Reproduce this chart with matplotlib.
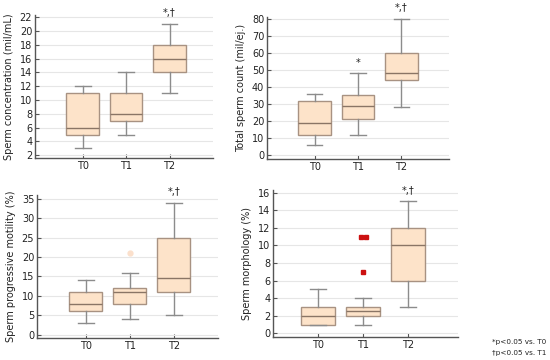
import matplotlib
matplotlib.use("Agg")
import matplotlib.pyplot as plt

# group labels
groups = ["T0", "T1", "T2"]

# box stats: whisker low, q1, median, q3, whisker high
conc_lo = [3, 5, 11]
conc_q1 = [5, 7, 14]
conc_med = [6, 8, 16]
conc_q3 = [11, 11, 18]
conc_hi = [12, 14, 21]

count_lo = [6, 12, 28]
count_q1 = [12, 21, 44]
count_med = [19, 29, 48]
count_q3 = [32, 35, 60]
count_hi = [36, 48, 80]

mot_lo = [3, 4, 5]
mot_q1 = [6, 8, 11]
mot_med = [8, 11, 14.5]
mot_q3 = [11, 12, 25]
mot_hi = [14, 16, 34]
mot_out = [[], [21], []]

morph_lo = [1, 1, 3]
morph_q1 = [1, 2, 6]
morph_med = [2, 2.5, 10]
morph_q3 = [3, 3, 12]
morph_hi = [5, 4, 15]
morph_out = [[], [11, 11, 7], []]

# significance marks above each group
conc_marks = ["", "", "*,\u2020"]
count_marks = ["", "*", "*,\u2020"]
mot_marks = ["", "", "*,\u2020"]
morph_marks = ["", "", "*,\u2020"]

FACE = "#FDE3C9"
EDGE = "#A89282"
WHISK = "#8C8C8C"


def make_stats(lo, q1, med, q3, hi, out=None):
    stats = []
    for i in range(len(groups)):
        stats.append({"whislo": lo[i], "q1": q1[i], "med": med[i], "q3": q3[i],
                      "whishi": hi[i], "fliers": out[i] if out else [],
                      "label": groups[i]})
    return stats


def draw_panel(ax, stats, marks, ylabel, yticks, ylim, xlim, flier_style):
    ax.bxp(stats, positions=[1, 2, 3], widths=0.75, capwidths=0.36,
           patch_artist=True, showfliers=True,
           boxprops=dict(facecolor=FACE, edgecolor=EDGE, linewidth=1.0),
           medianprops=dict(color="#8A7565", linewidth=1.0),
           whiskerprops=dict(color=WHISK, linewidth=1.0),
           capprops=dict(color=WHISK, linewidth=1.0),
           flierprops=flier_style)
    ax.set_xlim(xlim)
    ax.set_ylim(ylim)
    ax.set_yticks(yticks)
    ax.set_xticks([1, 2, 3])
    ax.set_xticklabels(groups)
    ax.set_ylabel(ylabel, fontsize=7, color="#222222", labelpad=4)
    ax.yaxis.grid(True, color="#E6E6E6", linewidth=0.8)
    ax.set_axisbelow(True)
    for s in ["top", "right"]:
        ax.spines[s].set_visible(False)
    for s in ["left", "bottom"]:
        ax.spines[s].set_color("#555555")
        ax.spines[s].set_linewidth(1.0)
    ax.tick_params(direction="in", length=3, width=0.8, colors="#555555",
                   labelsize=7, labelcolor="#222222", pad=2)
    for i, m in enumerate(marks):
        if m:
            ax.annotate(m, xy=(i + 1, stats[i]["whishi"]), xytext=(0, 4),
                        textcoords="offset points", ha="center", va="bottom",
                        fontsize=7, color="#222222", annotation_clip=False)


fig = plt.figure(figsize=(5.5, 3.6), dpi=100)

ax1 = fig.add_axes([35 / 550, 1 - 158 / 360, 178 / 550, 143 / 360])
ax2 = fig.add_axes([267 / 550, 1 - 159 / 360, 182 / 550, 142 / 360])
ax3 = fig.add_axes([37 / 550, 1 - 338 / 360, 181 / 550, 143 / 360])
ax4 = fig.add_axes([273 / 550, 1 - 337 / 360, 185 / 550, 147 / 360])

pale = dict(marker="o", markersize=3.5, markerfacecolor="#FBE0CC",
            markeredgecolor="#FBE0CC", linestyle="none")
red = dict(marker="s", markersize=3, markerfacecolor="#CC1111",
           markeredgecolor="#CC1111", linestyle="none")

draw_panel(ax1, make_stats(conc_lo, conc_q1, conc_med, conc_q3, conc_hi),
           conc_marks, "Sperm concentration (mil/mL)",
           range(2, 23, 2), (1.6, 22.3), (-0.1, 4.0), pale)
draw_panel(ax2, make_stats(count_lo, count_q1, count_med, count_q3, count_hi),
           count_marks, "Total sperm count (mil/ej.)",
           range(0, 81, 10), (-2.4, 81.2), (-0.1, 4.1), pale)
draw_panel(ax3, make_stats(mot_lo, mot_q1, mot_med, mot_q3, mot_hi, mot_out),
           mot_marks, "Sperm progressive motility (%)",
           range(0, 36, 5), (-0.9, 36.0), (-0.1, 4.0), pale)
draw_panel(ax4, make_stats(morph_lo, morph_q1, morph_med, morph_q3, morph_hi, morph_out),
           morph_marks, "Sperm morphology (%)",
           range(0, 17, 2), (-0.4, 16.3), (0.0, 4.1), red)

# two outliers at the same value sit side by side in the reference
for line in ax4.lines:
    xs = list(line.get_xdata())
    if len(xs) == 3 and line.get_marker() == "s":
        line.set_xdata([xs[0] - 0.06, xs[1] + 0.06, xs[2]])

fig.text(492 / 550, 1 - 342 / 360, "*p<0.05 vs. T0", fontsize=5.2,
         color="#222222", va="center")
fig.text(492 / 550, 1 - 353 / 360, "\u2020p<0.05 vs. T1", fontsize=5.2,
         color="#222222", va="center")

fig.savefig("out.png", dpi=100)
